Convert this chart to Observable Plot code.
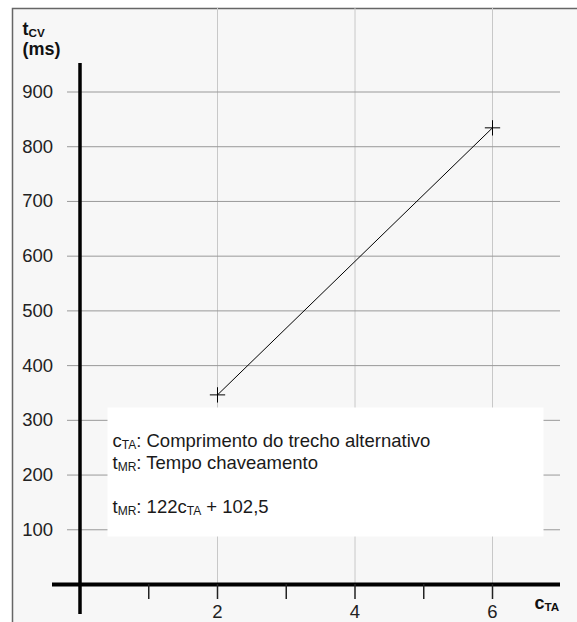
<!DOCTYPE html>
<html>
<head>
<meta charset="utf-8">
<script src="https://cdn.jsdelivr.net/npm/d3@7"></script>
<script src="https://cdn.jsdelivr.net/npm/@observablehq/plot@0.6"></script>
<style>
  body { margin: 0; background: #ffffff; }
  #chart svg { display: block; }
</style>
</head>
<body>
<div id="chart"></div>
<script>
// ---- data ----
const cTA = [2, 6];
const tCV = [346.5, 834.5];
const yTicks = [100, 200, 300, 400, 500, 600, 700, 800, 900];
const xTicks = [1, 2, 3, 4, 5, 6];
const xTickLabels = ["", "2", "", "4", "", "6"];
const xGrid = [2, 4, 6];
const yLabelLines = ["t_{CV}", "(ms)"];
const xLabel = "c_{TA}";
const legendLines = [
  "c_{TA}: Comprimento do trecho alternativo",
  "t_{MR}: Tempo chaveamento",
  "",
  "t_{MR}: 122c_{TA} + 102,5"
];

const points = cTA.map((x, i) => ({x, y: tCV[i]}));
const FONT = "'Liberation Sans', Arial, Helvetica, sans-serif";
const FS = 18.5;

const marks = [
  // background panel
  Plot.frame({fill: "#f7f7f7", stroke: "#666", strokeWidth: 1.5,
              insetLeft: 12, insetTop: 8, insetRight: -4, insetBottom: -44}),
  // grid
  Plot.ruleX(xGrid, {stroke: "#c8c8c8", strokeWidth: 1, insetTop: 8}),
  Plot.ruleY(yTicks, {stroke: "#999", strokeWidth: 1, insetLeft: 67, insetRight: 17}),
  // legend box
  Plot.frame({fill: "white", stroke: "none",
              insetLeft: 107, insetTop: 407, insetRight: 34, insetBottom: 48}),
  // data
  Plot.line(points, {x: "x", y: "y", stroke: "black", strokeWidth: 1}),
  Plot.dot(points, {x: "x", y: "y", symbol: "plus", r: 5, stroke: "black", strokeWidth: 1}),
  // axis lines
  Plot.ruleX([0], {stroke: "black", strokeWidth: 3.5, insetTop: 63, insetBottom: -30}),
  Plot.ruleY([0], {stroke: "black", strokeWidth: 4, insetLeft: 52, insetRight: 17}),
  // x axis ticks + labels
  Plot.axisX(xTicks, {anchor: "bottom", tickSize: 15, tickPadding: 5, label: null,
                      tickFormat: d => xTickLabels[xTicks.indexOf(d)],
                      stroke: "#222", strokeWidth: 1.5, fill: "#222", fontSize: FS}),
  // y tick labels
  Plot.text(yTicks, {x: 0, y: d => d, text: d => String(d), dx: -27, textAnchor: "end",
                     lineAnchor: "middle", fontSize: FS, fill: "#222"}),
  // axis titles
  ...yLabelLines.map((t, i) => Plot.text([t], {frameAnchor: "top-left", text: d => d,
                     dx: 22, dy: 22 + i * 20, lineAnchor: "top", textAnchor: "start",
                     fontSize: 18, fontWeight: "bold", fill: "#111"})),
  Plot.text([xLabel], {frameAnchor: "top-left", text: d => d, dx: 534, dy: 596,
                       lineAnchor: "top", textAnchor: "start",
                       fontSize: 18, fontWeight: "bold", fill: "#111"}),
  // legend text
  ...legendLines.map((t, i) => t ? Plot.text([t], {frameAnchor: "top-left", text: d => d,
                     dx: 112, dy: 433 + i * 22, lineAnchor: "top", textAnchor: "start",
                     fontSize: FS, fill: "#1a1a1a"}) : null).filter(Boolean)
];

const chart = Plot.plot({
  width: 577,
  height: 622,
  marginTop: 0, marginLeft: 0, marginRight: 0, marginBottom: 38,
  x: {domain: [0, 6], range: [79.5, 492], axis: null},
  y: {domain: [0, 900], range: [584, 91.5], axis: null},
  style: {fontFamily: FONT, fontSize: FS + "px", background: "white", overflow: "visible"},
  marks
});

// turn "_{...}" into subscript tspans
d3.select(chart).selectAll("text").each(function() {
  const s = this.textContent;
  if (!s.includes("_{")) return;
  const parts = s.split(/(_\{[^}]*\})/);
  this.textContent = "";
  const sel = d3.select(this);
  let shifted = false;
  for (const p of parts) {
    if (!p) continue;
    const m = p.match(/^_\{(.*)\}$/);
    if (m) {
      sel.append("tspan").attr("dy", "0.17em").attr("font-size", "0.65em").text(m[1]);
      shifted = true;
    } else {
      const t = sel.append("tspan").text(p);
      if (shifted) { t.attr("dy", "-0.11em"); shifted = false; }
    }
  }
});

document.getElementById("chart").appendChild(chart);
</script>
</body>
</html>
